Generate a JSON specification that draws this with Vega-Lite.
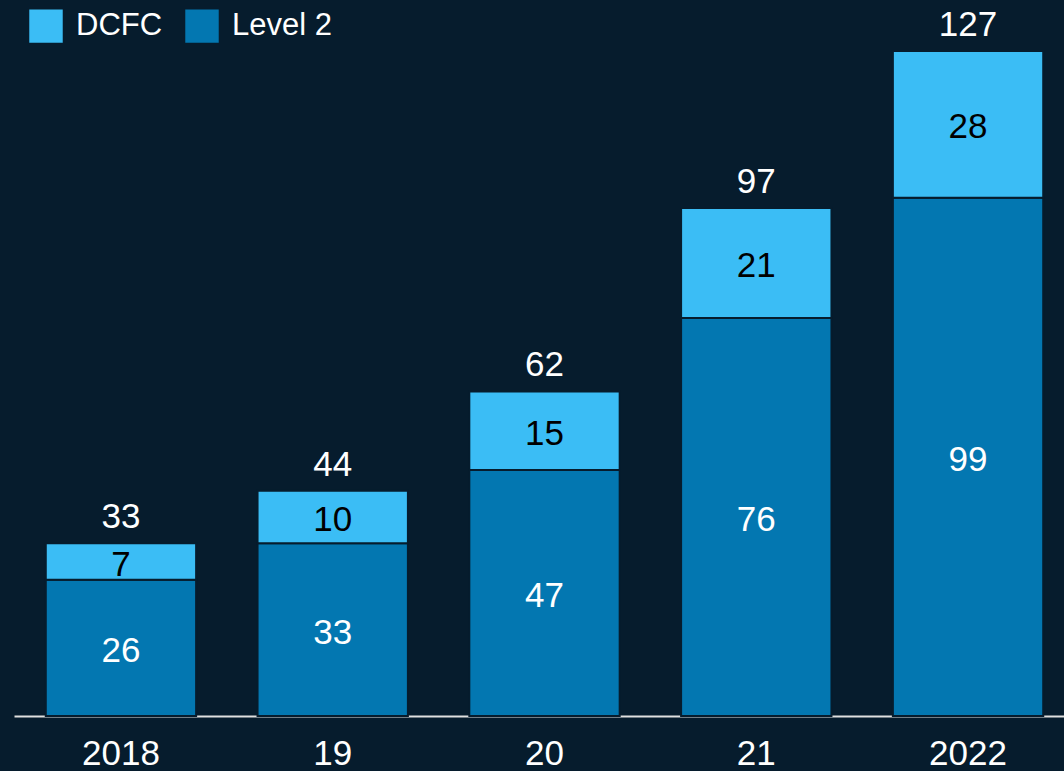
{
  "$schema": "https://vega.github.io/schema/vega-lite/v6.json",
  "autosize": {"type": "none"},
  "width": 1061,
  "height": 716,
  "padding": {"left": 14, "top": 0, "right": 0, "bottom": 55},
  "background": "#061c2d",
  "config": {
    "view": {"stroke": null},
    "font": "Liberation Sans",
    "text": {"font": "Liberation Sans"}
  },
  "data": {
    "values": [
      {"year": "2018", "type": "Level 2", "value": 26, "total": 33},
      {"year": "2018", "type": "DCFC", "value": 7, "total": 33},
      {"year": "19", "type": "Level 2", "value": 33, "total": 44},
      {"year": "19", "type": "DCFC", "value": 10, "total": 44},
      {"year": "20", "type": "Level 2", "value": 47, "total": 62},
      {"year": "20", "type": "DCFC", "value": 15, "total": 62},
      {"year": "21", "type": "Level 2", "value": 76, "total": 97},
      {"year": "21", "type": "DCFC", "value": 21, "total": 97},
      {"year": "2022", "type": "Level 2", "value": 99, "total": 127},
      {"year": "2022", "type": "DCFC", "value": 28, "total": 127}
    ]
  },
  "encoding": {
    "x": {
      "field": "year",
      "type": "ordinal",
      "sort": null,
      "scale": {"paddingInner": 0.29, "paddingOuter": 0.15},
      "axis": {
        "title": null,
        "labelAngle": 0,
        "labelColor": "#ffffff",
        "labelFontSize": 35,
        "labelFont": "Liberation Sans",
        "labelPadding": 20,
        "ticks": false,
        "domainColor": "#e0e0e0",
        "domainWidth": 2
      }
    }
  },
  "layer": [
    {
      "transform": [
        {"stack": "value", "groupby": ["year"], "sort": [{"field": "type", "order": "descending"}], "as": ["v0", "v1"]}
      ],
      "mark": {"type": "bar", "stroke": "#061c2d", "strokeWidth": 2},
      "encoding": {
        "y": {"field": "v0", "type": "quantitative", "scale": {"domain": [0, 136.75], "nice": false}, "axis": null},
        "y2": {"field": "v1"},
        "color": {
          "field": "type",
          "type": "nominal",
          "scale": {"domain": ["DCFC", "Level 2"], "range": ["#3bbdf5", "#0377b1"]},
          "legend": {
            "title": null,
            "orient": "none",
            "legendX": 15,
            "legendY": 9,
            "direction": "horizontal",
            "symbolType": "square",
            "symbolSize": 1120,
            "symbolStrokeWidth": 0,
            "labelFontSize": 31,
            "labelFont": "Liberation Sans",
            "labelColor": "#ffffff",
            "labelOffset": 13,
            "columnPadding": 22,
            "padding": 0
          }
        }
      }
    },
    {
      "transform": [
        {"stack": "value", "groupby": ["year"], "sort": [{"field": "type", "order": "descending"}], "as": ["v0", "v1"]},
        {"calculate": "(datum.v0 + datum.v1) / 2", "as": "mid"}
      ],
      "mark": {"type": "text", "fontSize": 35, "baseline": "middle", "align": "center", "dy": 3},
      "encoding": {
        "y": {"field": "mid", "type": "quantitative"},
        "text": {"field": "value", "type": "quantitative"},
        "color": {"condition": {"test": "datum.type === 'DCFC'", "value": "#000000"}, "value": "#ffffff"}
      }
    },
    {
      "transform": [
        {"stack": "value", "groupby": ["year"], "sort": [{"field": "type", "order": "descending"}], "as": ["v0", "v1"]},
        {"aggregate": [{"op": "max", "field": "v1", "as": "top"}, {"op": "max", "field": "total", "as": "total"}], "groupby": ["year"]}
      ],
      "mark": {"type": "text", "fontSize": 35, "baseline": "bottom", "align": "center", "dy": -8, "color": "#ffffff"},
      "encoding": {
        "y": {"field": "top", "type": "quantitative"},
        "text": {"field": "total", "type": "quantitative"}
      }
    }
  ]
}
